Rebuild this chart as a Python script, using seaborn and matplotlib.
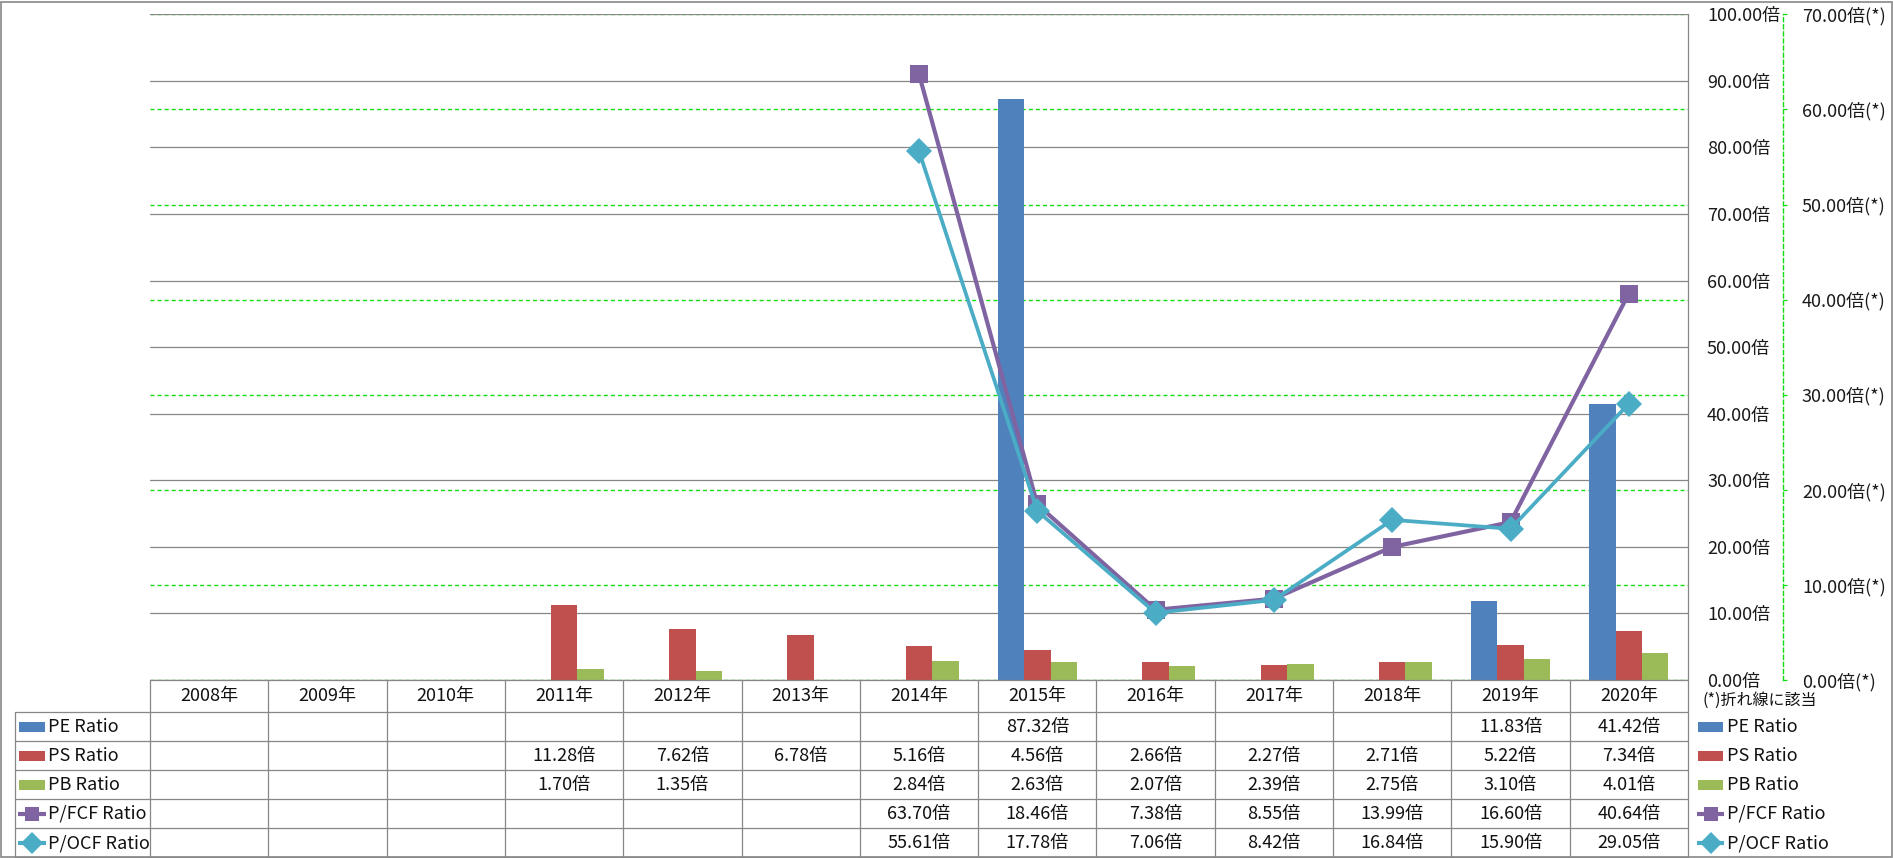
import numpy as np
import pandas as pd
import matplotlib
matplotlib.use("Agg")
import matplotlib.pyplot as plt
import matplotlib.transforms as mtrans
from matplotlib.patches import Rectangle
from matplotlib.ticker import FuncFormatter
import seaborn as sns

# ---------------- data ----------------
years = [2008, 2009, 2010, 2011, 2012, 2013, 2014, 2015, 2016, 2017, 2018, 2019, 2020]
year_labels = [f"{y}年" for y in years]
nan = np.nan
pe_ratio = [nan, nan, nan, nan, nan, nan, nan, 87.32, nan, nan, nan, 11.83, 41.42]
ps_ratio = [nan, nan, nan, 11.28, 7.62, 6.78, 5.16, 4.56, 2.66, 2.27, 2.71, 5.22, 7.34]
pb_ratio = [nan, nan, nan, 1.70, 1.35, nan, 2.84, 2.63, 2.07, 2.39, 2.75, 3.10, 4.01]
pfcf_ratio = [nan, nan, nan, nan, nan, nan, 63.70, 18.46, 7.38, 8.55, 13.99, 16.60, 40.64]
pocf_ratio = [nan, nan, nan, nan, nan, nan, 55.61, 17.78, 7.06, 8.42, 16.84, 15.90, 29.05]
bar_names = ["PE Ratio", "PS Ratio", "PB Ratio"]
line_names = ["P/FCF Ratio", "P/OCF Ratio"]
note_text = "(*)折れ線に該当"

# ---------------- style ----------------
sns.set_style("white")
plt.rcParams['font.family'] = ['Noto Sans CJK JP', 'DejaVu Sans']
C_PE, C_PS, C_PB = "#4F81BD", "#C0504D", "#9BBB59"
C_FCF, C_OCF = "#8064A2", "#4BACC6"
GRID = "#878787"
GREEN = "#11dd11"
FS = 13

W, H = 1893, 858
fig = plt.figure(figsize=(W / 100, H / 100), dpi=100)
fig.patch.set_facecolor("white")

L, R, T, B = 150, 1688, 14.3, 680
rect = [L / W, 1 - B / H, (R - L) / W, (B - T) / H]

ax_sec = fig.add_axes(rect, zorder=0)
ax = fig.add_axes(rect, zorder=1)
ax_ln = fig.add_axes(rect, zorder=2)

# ---- bars ----
df = pd.DataFrame({
    "year": year_labels * 3,
    "metric": [n for n in bar_names for _ in years],
    "value": pe_ratio + ps_ratio + pb_ratio,
})
sns.barplot(data=df, x="year", y="value", hue="metric", order=year_labels,
            hue_order=bar_names, palette=[C_PE, C_PS, C_PB], width=0.67,
            errorbar=None, saturation=1, linewidth=0, ax=ax, legend=False)
ax.set_xlim(-0.5, len(years) - 0.5)
ax.set_ylim(0, 100)
ax.set_yticks(np.arange(0, 101, 10))
ax.yaxis.tick_right()
ax.yaxis.set_major_formatter(FuncFormatter(lambda v, p: f"{v:.2f}倍"))
ax.tick_params(axis="y", length=0, pad=19 * 0.72, labelsize=FS, labelcolor="#1a1a1a")
ax.tick_params(axis="x", bottom=False, labelbottom=False)
ax.set_xlabel("")
ax.set_ylabel("")
ax.grid(axis="y", color=GRID, lw=0.9)
ax.grid(axis="x", visible=False)
ax.set_axisbelow(True)
ax.patch.set_visible(False)
for s in ["left", "top", "bottom"]:
    ax.spines[s].set_visible(False)
ax.spines["right"].set_color(GRID)
ax.spines["right"].set_linewidth(0.9)

# ---- secondary axis ----
ax_sec.set_xlim(-0.5, len(years) - 0.5)
ax_sec.set_ylim(0, 70)
ax_sec.set_yticks(np.arange(0, 71, 10))
ax_sec.yaxis.tick_right()
ax_sec.yaxis.set_major_formatter(FuncFormatter(lambda v, p: f"{v:.2f}倍(*)"))
ax_sec.tick_params(axis="y", length=4 * 0.72, width=0.9, color=GREEN, direction="out",
                   pad=15 * 0.72, labelsize=FS, labelcolor="#1a1a1a")
ax_sec.tick_params(axis="x", bottom=False, labelbottom=False)
ax_sec.grid(axis="y", color=GREEN, lw=1.0, linestyle=(0, (2.9, 2.2)))
for s in ["left", "top", "bottom"]:
    ax_sec.spines[s].set_visible(False)
ax_sec.spines["right"].set_position(("axes", (1783 - L) / (R - L)))
ax_sec.spines["right"].set_color(GREEN)
ax_sec.spines["right"].set_linestyle((0, (2.9, 2.2)))
ax_sec.spines["right"].set_linewidth(1.0)

# ---- lines ----
xpos = np.arange(len(years))
sns.lineplot(x=xpos, y=pfcf_ratio, ax=ax_ln, color=C_FCF, lw=3, marker="s",
             markersize=12.5, markeredgewidth=0)
sns.lineplot(x=xpos, y=pocf_ratio, ax=ax_ln, color=C_OCF, lw=2.7, marker="D",
             markersize=13.5, markeredgewidth=0)
ax_ln.set_xlim(-0.5, len(years) - 0.5)
ax_ln.set_ylim(0, 70)
ax_ln.axis("off")

# ---------------- overlay: table, legend, frame ----------------
ov = fig.add_axes([0, 0, 1, 1], zorder=3)
ov.set_xlim(0, W)
ov.set_ylim(H, 0)
ov.axis("off")
ov.patch.set_visible(False)
bt = mtrans.blended_transform_factory(ax.transData, ov.transData)

ov.add_patch(Rectangle((1, 1.5), W - 2.5, H - 3, fill=False, ec=GRID, lw=1.2))

rows_y = [712, 741, 770, 799, 828, 857]
TL = 15
n = len(years)
ov.plot([-0.5, n - 0.5], [B, B], color=GRID, lw=0.9, transform=bt)
for y in rows_y:
    ov.plot([TL, R], [y, y], color=GRID, lw=0.9)
for k in range(n + 1):
    ov.plot([k - 0.5, k - 0.5], [B, 857], color=GRID, lw=0.9, transform=bt)
ov.plot([TL, TL], [712, 857], color=GRID, lw=0.9)

for i, lab in enumerate(year_labels):
    ov.text(i, (B + 712) / 2, lab, ha="center", va="center", fontsize=FS,
            color="#111111", transform=bt)

series = [pe_ratio, ps_ratio, pb_ratio, pfcf_ratio, pocf_ratio]
names = bar_names + line_names
colors = [C_PE, C_PS, C_PB, C_FCF, C_OCF]
markers = [None, None, None, "s", "D"]
for r, (vals, name, col, mk) in enumerate(zip(series, names, colors, markers)):
    yc = (rows_y[r] + rows_y[r + 1]) / 2
    for i, v in enumerate(vals):
        if not np.isnan(v):
            ov.text(i, yc + 0.5, f"{v:.2f}倍", ha="center", va="center",
                    fontsize=FS, color="#111111", transform=bt)
    for (kx0, kx1, tx) in [(19, 45, 48), (1698, 1723, 1727)]:
        if mk is None:
            ov.add_patch(Rectangle((kx0, yc - 5), kx1 - kx0, 10, color=col, lw=0))
        else:
            ov.plot([kx0 - 1, kx1 + 1], [yc, yc], color=col, lw=3,
                    solid_capstyle="butt")
            ov.plot([(kx0 + kx1) / 2], [yc], marker=mk, color=col,
                    markersize=10.5 if mk == "s" else 11.5, markeredgewidth=0)
        ov.text(tx, yc + 0.5, name, ha="left", va="center", fontsize=FS,
                color="#111111")

ov.text(1702, 700, note_text, ha="left", va="center", fontsize=11.5, color="#111111")

fig.savefig("out.png", dpi=100, facecolor="white")
